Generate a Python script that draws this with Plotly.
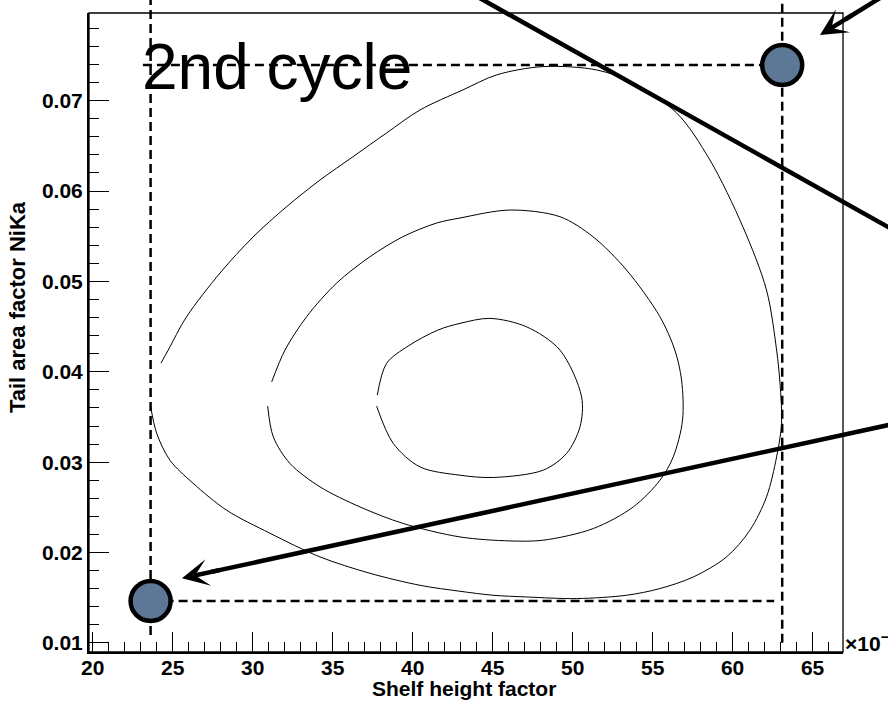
import plotly.graph_objects as go
import math

# ---- data ----
# outer contour (opening on the left side)
c1_x = [24.27, 24.72, 25.87, 27.96, 30.02, 32.12, 34.21, 36.27, 38.37, 40.46, 43.14, 45.25,
        48.14, 51.50, 53.58, 56.50, 58.58, 60.64, 62.12, 62.75, 62.96, 63.06, 62.75, 62.12,
        61.08, 59.62, 57.54, 55.46, 53.37, 50.25, 47.12, 45.02, 42.96, 40.46, 37.33, 34.21,
        31.08, 28.37, 26.27, 24.83, 24.00, 23.62]
c1_y = [0.04096, 0.04240, 0.04609, 0.05093, 0.05491, 0.05827, 0.06122, 0.06380, 0.06643,
        0.06897, 0.07119, 0.07285, 0.07377, 0.07340, 0.07211, 0.06864, 0.06344, 0.05605,
        0.04904, 0.04240, 0.03875, 0.03432, 0.03059, 0.02616, 0.02247, 0.01952, 0.01730,
        0.01602, 0.01528, 0.01491, 0.01509, 0.01528, 0.01572, 0.01638, 0.01771, 0.01952,
        0.02214, 0.02469, 0.02768, 0.03022, 0.03321, 0.03620]
# middle contour
c2_x = [31.19, 32.02, 33.37, 35.25, 37.33, 39.39, 41.50, 42.96, 46.08, 49.21, 51.27,
        53.37, 55.46, 56.39, 56.81, 56.87, 56.29, 55.46, 53.79, 51.29, 48.16, 46.08, 42.96,
        39.41, 36.71, 34.21, 32.33, 31.29, 30.94]
c2_y = [0.03889, 0.04240, 0.04609, 0.04982, 0.05273, 0.05495, 0.05646, 0.05702,
        0.05790, 0.05716, 0.05495, 0.05126, 0.04609, 0.04240, 0.03908, 0.03465, 0.03059,
        0.02801, 0.02505, 0.02266, 0.02137, 0.02129, 0.02173, 0.02322, 0.02505, 0.02727,
        0.02986, 0.03280, 0.03620]
# inner contour
c3_x = [37.79, 38.37, 39.71, 41.58, 42.96, 44.83, 47.12, 49.21, 50.56, 50.46, 49.62, 48.16,
        45.04, 42.96, 40.46, 38.79, 37.75]
c3_y = [0.03742, 0.04093, 0.04284, 0.04462, 0.04536, 0.04591, 0.04498, 0.04240, 0.03723,
        0.03391, 0.03097, 0.02912, 0.02831, 0.02856, 0.02948, 0.03207, 0.03620]

# the two marked points
pt_x = [23.62, 63.10]
pt_y = [0.01465, 0.07395]

x_ticks = [20, 25, 30, 35, 40, 45, 50, 55, 60, 65]
y_ticks = [0.01, 0.02, 0.03, 0.04, 0.05, 0.06, 0.07]

# overlay lines in data units: (x_tail, y_tail, x_head, y_head)
long_line = (43.58, 0.08196, 71.71, 0.05404)
arrow_top = (70.80, 0.08309, 65.46, 0.07727)
arrow_bottom = (74.12, 0.03579, 25.58, 0.01716)

FONT = "Liberation Sans, Arial, Helvetica, sans-serif"

# ---- geometry ----
W, H = 888, 701
ML, MR, MT, MB = 89, 45, 13, 49
PW, PH = W - ML - MR, H - MT - MB
XR = [19.77, 66.9]
YR = [0.009, 0.0797]


def d2px(x, y):
    return (ML + (x - XR[0]) / (XR[1] - XR[0]) * PW,
            MT + (YR[1] - y) / (YR[1] - YR[0]) * PH)


def px2paper(px, py):
    return ((px - ML) / PW, (MT + PH - py) / PH)


def d2paper(x, y):
    return px2paper(*d2px(x, y))


fig = go.Figure()
for cx, cy in [(c1_x, c1_y), (c2_x, c2_y), (c3_x, c3_y)]:
    fig.add_trace(go.Scatter(x=cx, y=cy, mode="lines",
                             line=dict(color="black", width=1, shape="spline", smoothing=0.9),
                             hoverinfo="skip", showlegend=False))

fig.add_trace(go.Scatter(x=pt_x, y=pt_y, mode="markers", cliponaxis=False,
                         marker=dict(size=40, color="#5d7796",
                                     line=dict(color="black", width=4.5)),
                         showlegend=False, hoverinfo="skip"))

dash = dict(color="black", width=2.5, dash="9px,5px")
shapes = [
    dict(type="line", xref="x", yref="paper", x0=pt_x[0], x1=pt_x[0], y0=0.0266, y1=1.05,
         line=dash, layer="below"),
    dict(type="line", xref="x", yref="paper", x0=pt_x[1], x1=pt_x[1], y0=0.0145, y1=1.05,
         line=dash, layer="below"),
    dict(type="line", xref="x", yref="y", x0=23.14, x1=pt_x[1], y0=pt_y[1], y1=pt_y[1],
         line=dash, layer="below"),
    dict(type="line", xref="x", yref="y", x0=pt_x[0], x1=62.60, y0=pt_y[0], y1=pt_y[0],
         line=dash, layer="below"),
    dict(type="rect", xref="paper", yref="paper", x0=0, x1=1, y0=0, y1=1,
         line=dict(color="black", width=1.3), layer="above"),
]

THICK = 4.5
# long line without heads
p0 = d2paper(long_line[0], long_line[1])
p1 = d2paper(long_line[2], long_line[3])
shapes.append(dict(type="line", xref="paper", yref="paper", x0=p0[0], y0=p0[1], x1=p1[0], y1=p1[1],
                   line=dict(color="black", width=THICK), layer="above"))

annotations = []
for (tx, ty, hx, hy) in [arrow_top, arrow_bottom]:
    tpx, tpy = d2px(tx, ty)
    hpx, hpy = d2px(hx, hy)
    dx, dy = tpx - hpx, tpy - hpy
    n = math.hypot(dx, dy)
    ux, uy = dx / n, dy / n
    # shaft from far tail to just behind the head
    a = px2paper(tpx, tpy)
    b = px2paper(hpx + ux * 30, hpy + uy * 30)
    shapes.append(dict(type="line", xref="paper", yref="paper", x0=a[0], y0=a[1], x1=b[0], y1=b[1],
                       line=dict(color="black", width=THICK), layer="above"))
    annotations.append(dict(x=hx, y=hy, xref="x", yref="y", text="", showarrow=True,
                            arrowhead=3, arrowsize=1, arrowwidth=THICK, arrowcolor="black",
                            axref="pixel", ayref="pixel", ax=ux * 40, ay=uy * 40, standoff=0))

annotations += [
    dict(text="2nd cycle", xref="paper", yref="paper", x=0.069, y=0.9158,
         xanchor="left", yanchor="middle", showarrow=False, borderpad=0,
         font=dict(family=FONT, size=64, color="black")),
    dict(text="Shelf height factor", xref="paper", yref="paper", x=0.497, y=-0.0575,
         xanchor="center", yanchor="middle", showarrow=False, borderpad=0,
         font=dict(family=FONT, size=21, color="black", weight="bold")),
    dict(text="Tail area factor NiKa", xref="paper", yref="paper", x=-0.094, y=0.54,
         xanchor="center", yanchor="middle", showarrow=False, textangle=-90,
         font=dict(family=FONT, size=22, color="black", weight="bold")),
    dict(text="×10<sup>−3</sup>", xref="paper", yref="paper", x=1, y=0,
         xanchor="left", yanchor="bottom", showarrow=False, xshift=1, yshift=-4, borderpad=0,
         font=dict(family=FONT, size=21, color="black", weight="bold")),
]

axis_common = dict(
    showgrid=False, zeroline=False, ticks="inside", ticklen=20, tickwidth=1,
    tickcolor="black", showline=True, linecolor="black", linewidth=2,
    tickfont=dict(family=FONT, size=21, color="black", weight="bold"),
)

fig.update_layout(
    width=W, height=H,
    margin=dict(l=ML, r=MR, t=MT, b=MB),
    paper_bgcolor="white", plot_bgcolor="white",
    xaxis=dict(range=XR, tickvals=x_ticks, ticktext=[str(v) for v in x_ticks],
               ticklabelstandoff=-4,
               minor=dict(dtick=1, tick0=0, ticks="inside", ticklen=10, tickwidth=1, tickcolor="black"),
               **axis_common),
    yaxis=dict(range=YR, tickvals=y_ticks, ticktext=[f"{v:.2f}" for v in y_ticks],
               minor=dict(dtick=0.002, tick0=0, ticks="inside", ticklen=10, tickwidth=1, tickcolor="black"),
               **axis_common),
    shapes=shapes, annotations=annotations, showlegend=False,
)

fig.write_html("out.html")
